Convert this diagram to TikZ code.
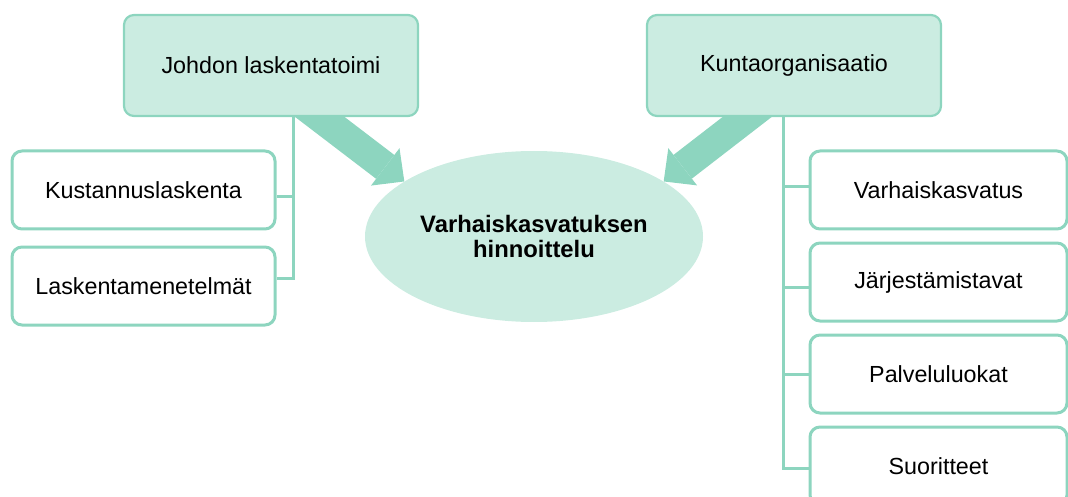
\documentclass[tikz,border=0pt]{standalone}
\usepackage{fontspec}
\setmainfont{Liberation Sans}
\usetikzlibrary{positioning, shapes.geometric, arrows.meta, backgrounds, calc}
\definecolor{mintfill}{HTML}{CBECE1}
\definecolor{mintline}{HTML}{8DD5BF}

\begin{document}
\begin{tikzpicture}[x=1pt, y=-1pt,
  topbox/.style={shape=rectangle, rounded corners=10pt, draw=mintline, line width=2.2pt, fill=mintfill, minimum width=294pt, minimum height=101pt, font=\fontsize{23.3}{27}\selectfont},
  subbox/.style={shape=rectangle, rounded corners=10pt, draw=mintline, line width=3pt, fill=white, minimum height=78pt, font=\fontsize{23.3}{27}\selectfont},
  branch/.style={draw=mintline, line width=3pt},
  bigarrow/.style={draw=mintline, line width=30pt, -{Triangle[length=24pt, width=47pt, line width=0pt]}}]
\useasboundingbox (0,0) rectangle (1068,497);

% the two sources and the target
\node[topbox] (johdon) at (271,65.5) {Johdon laskentatoimi};
\node[topbox] (kunta) at (794,65.5) {Kuntaorganisaatio};
\node[shape=ellipse, fill=mintfill, minimum width=338pt, minimum height=171pt, inner sep=0pt, align=center, font=\bfseries\fontsize{23.8}{25}\selectfont] (hinta) at (534,236.5) {Varhaiskasvatuksen\\hinnoittelu};

% left list
\node[subbox, minimum width=263pt] (kust) at (143.5,190) {Kustannuslaskenta};
\node[subbox, minimum width=263pt, below=15pt of kust] (lask) {Laskentamenetelmät};

% right list
\node[subbox, minimum width=257pt] (varh) at (938.5,190) {Varhaiskasvatus};
\node[subbox, minimum width=257pt, below=11pt of varh] (jarj) {Järjestämistavat};
\node[subbox, minimum width=257pt, below=11pt of jarj] (palv) {Palveluluokat};
\node[subbox, minimum width=257pt, below=11pt of palv] (suor) {Suoritteet};

% branches
\coordinate (lstem) at ([xshift=22pt]johdon.south);
\draw[branch] (lstem) |- ([yshift=-7pt]kust.east);
\draw[branch] (lstem) |- ([yshift=8pt]lask.east);
\coordinate (rstem) at ([xshift=-11pt]kunta.south);
\draw[branch] (rstem) |- ([yshift=3pt]varh.west);
\draw[branch] (rstem) |- ([yshift=-5pt]jarj.west);
\draw[branch] (rstem) |- (palv.west);
\draw[branch] (rstem) |- ([yshift=-2pt]suor.west);

% big arrows
\begin{scope}[on background layer]
\coordinate (larrow) at ([xshift=49pt]johdon.south);
\coordinate (rarrow) at ([xshift=-47pt]kunta.south);
\draw[bigarrow] ($(larrow)!-0.3!(hinta.157)$) -- (hinta.157);
\draw[bigarrow] ($(rarrow)!-0.3!(hinta.23)$) -- (hinta.23);
\end{scope}
\end{tikzpicture}
\end{document}
